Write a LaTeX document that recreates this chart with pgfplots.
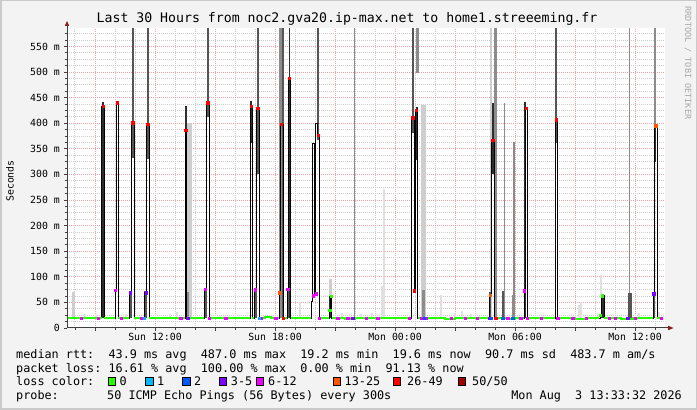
\documentclass[border=0pt]{standalone}
\usepackage{pgfplots}
\pgfplotsset{compat=1.18}
\usepackage{fontspec}
\setmainfont{DejaVu Sans Mono}
\frenchspacing

\definecolor{bg}{HTML}{F3F3F3}
\definecolor{framec}{HTML}{CACACA}
\definecolor{mgrid}{HTML}{F2A2A2}
\definecolor{ngrid}{HTML}{CDCDCD}
\definecolor{axc}{HTML}{404040}
\definecolor{arr}{HTML}{8E1A1A}
\definecolor{wm}{HTML}{A8A8A8}
\definecolor{sk1}{HTML}{E0E0E0}
\definecolor{sk2}{HTML}{CECECE}
\definecolor{sk3}{HTML}{8C8C8C}
\definecolor{sk4}{HTML}{555555}
\definecolor{sk5}{HTML}{2E2E2E}
\definecolor{lc0}{HTML}{26FF00}
\definecolor{lc1}{HTML}{00B8FF}
\definecolor{lc2}{HTML}{0059FF}
\definecolor{lc3}{HTML}{7E00FF}
\definecolor{lc6}{HTML}{EE00FF}
\definecolor{lc13}{HTML}{FF5500}
\definecolor{lc26}{HTML}{FF0000}
\definecolor{lc50}{HTML}{A00000}

\newcommand\tickfont{\fontsize{9.85}{11}\selectfont}
\newcommand\legfont{\fontsize{11.8}{13}\selectfont}
\newcommand\titlefont{\fontsize{13.2}{15}\selectfont}

\begin{document}
\begin{tikzpicture}[x=1pt,y=1pt]
\fill[bg] (0,0) rectangle (697,410);
\draw[framec, line width=1.5pt] (0.75,0.75) rectangle (696.25,409.25);

\begin{axis}[
  at={(67pt,82pt)}, anchor=south west,
  scale only axis, width=598pt, height=300pt,
  xmin=7.6, xmax=37.5, ymin=0, ymax=586,
  axis background/.style={fill=white},
  axis line style={draw=none},
  xtick={9,12,15,18,21,24,27,30,33,36},
  xticklabels={,Sun 12:00,,Sun 18:00,,Mon 00:00,,Mon 06:00,,Mon 12:00},
  minor xtick={8,10,11,13,14,16,17,19,20,22,23,25,26,28,29,31,32,34,35,37},
  ytick={0,50,...,550},
  yticklabels={0,50 m,100 m,150 m,200 m,250 m,300 m,350 m,400 m,450 m,500 m,550 m},
  minor ytick={12.5,25,37.5,62.5,75,87.5,112.5,125,137.5,162.5,175,187.5,212.5,225,237.5,262.5,275,287.5,312.5,325,337.5,362.5,375,387.5,412.5,425,437.5,462.5,475,487.5,512.5,525,537.5,562.5,575},
  xmajorgrids, ymajorgrids, xminorgrids, yminorgrids,
  major grid style={mgrid, line width=1pt, dash pattern=on 1pt off 1pt},
  minor grid style={ngrid, line width=1pt, dash pattern=on 1pt off 1pt},
  tick pos=left, tick align=outside,
  major tick length=3pt, minor tick length=2pt,
  tick style={axc, line width=0.8pt},
  ticklabel style={font=\tickfont, inner sep=0pt},
  xticklabel shift=2pt, yticklabel shift=4pt,
  unbounded coords=jump,
]

% smoke, lightest
\addplot[sk1, line width=2.3pt] coordinates {
(8.5,19)(8.5,28)(8.5,nan)
(9.05,19)(9.05,25)(9.05,nan)
(10.55,19)(10.55,27)(10.55,nan)
(12.75,19)(12.75,28)(12.75,nan)
(13.1,19)(13.1,31)(13.1,nan)
(15.25,19)(15.25,25)(15.25,nan)
(19.25,19)(19.25,50)(19.25,nan)
(21.35,19)(21.35,30)(21.35,nan)
(22.3,19)(22.3,28)(22.3,nan)
(22.85,19)(22.85,30)(22.85,nan)
(23.36,19)(23.36,83)(23.36,nan)
(23.46,19)(23.46,271)(23.46,nan)
(26.3,19)(26.3,65)(26.3,nan)
(27.0,19)(27.0,30)(27.0,nan)
(27.35,19)(27.35,33)(27.35,nan)
(27.8,19)(27.8,28)(27.8,nan)
(33.2,19)(33.2,45)(33.2,nan)
(33.3,19)(33.3,50)(33.3,nan)
(36.2,19)(36.2,30)(36.2,nan)
(37.2,19)(37.2,32)(37.2,nan)
(34.3,64)(34.3,104)(34.3,nan)
};
% smoke, light
\addplot[sk2, line width=2.3pt] coordinates {
(7.92,19)(7.92,71)(7.92,nan)
(28.79,19)(28.79,586)(28.79,nan)
(20.78,62)(20.78,95)(20.78,nan)
};
\addplot[sk2, line width=4.5pt] coordinates {
(13.72,19)(13.72,400)(13.72,nan)
(25.42,19)(25.42,436)(25.42,nan)
};
% smoke, medium
\addplot[sk3, line width=2.3pt] coordinates {
(13.65,19)(13.65,70)(13.65,nan)
(29.03,19)(29.03,586)(29.03,nan)
(29.9,19)(29.9,64)(29.9,nan)
(25.42,19)(25.42,75)(25.42,nan)
(37.0,395)(37.0,586)(37.0,nan)
(25.12,498)(25.12,586)(25.12,nan)
};
\addplot[sk3, line width=4.5pt] coordinates {
(18.33,19)(18.33,586)(18.33,nan)
};
\addplot[sk3, line width=1.1pt] coordinates {
(21.97,19)(21.97,586)(21.97,nan)
(29.47,19)(29.47,440)(29.47,nan)
(29.95,19)(29.95,364)(29.95,nan)
(35.73,19)(35.73,586)(35.73,nan)
};
% smoke, dark
\addplot[sk4, line width=2.3pt] coordinates {
(10.89,332)(10.89,586)(10.89,nan)
(11.64,330)(11.64,586)(11.64,nan)
(14.64,413)(14.64,586)(14.64,nan)
(17.15,300)(17.15,586)(17.15,nan)
(18.40,19)(18.40,586)(18.40,nan)
(20.15,367)(20.15,586)(20.15,nan)
(24.89,381)(24.89,586)(24.89,nan)
(32.06,362)(32.06,586)(32.06,nan)
(10.77,19)(10.77,72)(10.77,nan)
(11.52,19)(11.52,72)(11.52,nan)
(14.52,19)(14.52,78)(14.52,nan)
(17.02,19)(17.02,78)(17.02,nan)
(18.66,19)(18.66,78)(18.66,nan)
(28.75,19)(28.75,71)(28.75,nan)
(29.39,19)(29.39,73)(29.39,nan)
(36.95,19)(36.95,69)(36.95,nan)
};
\addplot[sk4, line width=4.5pt] coordinates {
(35.75,19)(35.75,69)(35.75,nan)
};
% smoke, darkest
\addplot[sk5, line width=2.3pt] coordinates {
(9.39,19)(9.39,442)(9.39,nan)
(13.54,370)(13.54,434)(13.54,nan)
(16.81,362)(16.81,443)(16.81,nan)
(25.1,328)(25.1,432)(25.1,nan)
(28.89,301)(28.89,440)(28.89,nan)
(30.51,19)(30.51,442)(30.51,nan)
(37.0,325)(37.0,395)(37.0,nan)
(34.37,19)(34.37,64)(34.37,nan)
(20.78,19)(20.78,62)(20.78,nan)
};
\addplot[sk5, line width=1.1pt] coordinates {
(18.72,19)(18.72,586)(18.72,nan)
};

% median rtt (spikes)
\addplot[black, line width=0.9pt, const plot] coordinates {
(9.32,19)(9.34,433)(9.45,19)(9.47,19)(9.48,nan)
(9.98,19)(10.0,74)(10.08,440)(10.17,19)(10.19,19)(10.2,nan)
(10.70,19)(10.72,69)(10.83,401)(10.95,19)(10.97,19)(10.98,nan)
(11.43,19)(11.45,69)(11.58,398)(11.70,19)(11.72,19)(11.73,nan)
(13.48,19)(13.5,386)(13.58,19)(13.6,19)(13.61,nan)
(14.45,19)(14.47,76)(14.58,440)(14.70,19)(14.72,19)(14.73,nan)
(16.73,19)(16.75,433)(16.87,19)(16.95,75)(17.08,429)(17.2,19)(17.22,19)(17.23,nan)
(18.2,19)(18.22,69)(18.25,398)(18.43,19)(18.45,19)(18.46,nan)
(18.6,19)(18.62,76)(18.69,488)(18.76,19)(18.78,19)(18.79,nan)
(19.78,19)(19.8,52)(19.88,360)(19.95,66)(20.02,400)(20.1,377)(20.2,19)(20.22,19)(20.23,nan)
(20.7,19)(20.72,35)(20.77,62)(20.83,19)(20.85,19)(20.86,nan)
(24.81,19)(24.83,411)(24.95,73)(25.0,426)(25.12,19)(25.14,19)(25.15,nan)
(28.68,19)(28.7,64)(28.83,367)(28.95,19)(28.97,19)(28.98,nan)
(30.43,19)(30.45,73)(30.5,429)(30.6,19)(30.62,19)(30.63,nan)
(31.98,19)(32.0,407)(32.12,19)(32.14,19)(32.15,nan)
(34.22,19)(34.25,25)(34.32,63)(34.45,19)(34.47,19)(34.48,nan)
(36.9,19)(36.92,67)(36.97,395)(37.1,19)(37.12,19)
};

% median rtt at 0 loss
\addplot[lc0, line width=2.2pt, const plot] coordinates {
(7.6,19)(8.3,20)(8.7,19)(9.33,19)(9.34,nan)
(9.45,19)(10.0,19)(10.01,nan)
(10.17,19)(10.72,19)(10.73,nan)
(10.95,19)(11.45,19)(11.46,nan)
(11.7,19)(12.2,20)(12.8,19)(13.5,19)(13.51,nan)
(13.6,19)(13.9,20)(14.2,19)(14.47,19)(14.48,nan)
(14.7,19)(15.6,20)(16.1,19)(16.75,19)(16.76,nan)
(16.87,19)(16.95,19)(16.96,nan)
(17.2,19)(17.5,21)(17.8,19)(18.2,19)(18.21,nan)
(18.44,19)(18.6,19)(18.61,nan)
(18.78,19)(19.78,19)(19.79,nan)
(20.2,19)(20.7,19)(20.71,nan)
(20.85,19)(21.5,18)(22.0,19)(23.0,20)(23.6,19)(24.81,19)(24.82,nan)
(25.14,19)(26.5,18)(27.0,19)(28.68,19)(28.69,nan)
(28.97,19)(29.6,18)(30.0,19)(30.43,19)(30.44,nan)
(30.62,19)(31.98,19)(31.99,nan)
(32.14,19)(33.0,18)(33.6,19)(34.22,19)(34.23,nan)
(34.47,19)(35.3,18)(35.9,19)(36.9,19)(36.91,nan)
(37.12,19)(37.35,19)
};

% loss colour of the median
\addplot[only marks, mark=square*, mark size=1.15pt, color=lc26] coordinates {
(9.40,433)(10.12,440)(10.89,401)(11.64,398)(13.54,386)(14.64,440)(16.81,433)
(17.14,429)(18.3,398)(18.72,488)(20.15,377)(24.89,411)(25.06,426)(28.89,367)
(30.55,429)(32.06,407)(18.4,19)(29.03,19)(24.97,73)
};
\addplot[only marks, mark=square*, mark size=1.15pt, color=lc13] coordinates {
(28.75,64)(18.2,69)(37.03,395)
};
\addplot[only marks, mark=square*, mark size=1.15pt, color=lc6] coordinates {
(10.0,74)(14.52,76)(17.02,75)(18.63,76)(19.9,63)(20.05,67)(30.45,73)
(8.3,19)(9.17,19)(10.3,19)(11.3,19)(13.28,19)(14.72,19)(15.53,19)(17.3,19)
(18.03,19)(20.22,19)(21.13,19)(21.63,19)(22.55,19)(23.13,19)(24.7,19)(25.3,19)
(25.55,19)(26.8,19)(27.5,19)(28.1,19)(29.63,19)(30.28,19)(30.61,19)(31.3,19)
(32.13,19)(32.88,19)(33.55,19)(34.72,19)(35.0,19)(36.0,19)(37.3,19)
};
\addplot[only marks, mark=square*, mark size=1.15pt, color=lc3] coordinates {
(10.77,69)(11.55,69)(13.63,19)(21.88,19)(36.93,67)(35.63,19)(28.72,19)
};
\addplot[only marks, mark=square*, mark size=1.15pt, color=lc1] coordinates {
(11.45,19)(17.2,19)
};
\addplot[only marks, mark=square*, mark size=1.15pt, color=lc2] coordinates {
(25.47,19)(29.38,19)(29.88,19)(28.8,19)
};
\addplot[only marks, mark=square*, mark size=1.15pt, color=lc0] coordinates {
(20.74,35)(20.8,62)(34.27,25)(34.37,63)
};
\end{axis}

% axis lines with arrows
\draw[axc, line width=1pt] (67,81.5) -- (67,384.5);
\draw[axc, line width=1pt] (66.5,82) -- (668.5,82);
\fill[arr] (64.8,384) -- (69.2,384) -- (67,389) -- cycle;
\fill[arr] (668,84.3) -- (673.5,82) -- (668,79.7) -- cycle;

% titles
\node[font=\titlefont, anchor=base, inner sep=0pt] at (347,387)
  {Last 30 Hours from noc2.gva20.ip-max.net to home1.streeeming.fr};
\node[font=\tickfont, rotate=90, inner sep=0pt] at (10,229) {Seconds};
\node[font=\fontsize{8.5}{10}\selectfont, text=wm, rotate=-90, inner sep=0pt] at (688,347)
  {RRDTOOL / TOBI OETIKER};

% legend
\begin{scope}[every node/.style={font=\legfont, inner sep=0pt, anchor=base west}]
\node at (16,51.7) {median rtt:~ 43.9 ms avg~ 487.0 ms max~ 19.2 ms min~ 19.6 ms now~ 90.7 ms sd~ 483.7 m am/s};
\node at (16,37.8) {packet loss: 16.61 \% avg~ 100.00 \% max~ 0.00 \% min~ 91.13 \% now};
\node at (16,24) {loss color:};
\node at (16,10.1) {probe:};
\node at (107,10.1) {50 ICMP Echo Pings (56 Bytes) every 300s};
\node[anchor=base east] at (682,10.1) {Mon Aug~ 3 13:33:32 2026};
\foreach \bx/\c/\lx/\t in {108.3/lc0/119.5/0, 145.7/lc1/157/1, 182.7/lc2/194/2,
  219.3/lc3/230.7/3-5, 256/lc6/268/6-12, 333.3/lc13/344.5/13-25,
  393.3/lc26/407/26-49}{
  \filldraw[fill=\c, draw=black, line width=0.6pt] (\bx,25) rectangle ++(7.3,7.3);
  \node at (\lx,24) {\t};
}
\filldraw[fill=lc50, draw=black, line width=0.6pt] (458,25) rectangle ++(7.3,7.3);
\node at (472,24) {50/50};
\end{scope}
\end{tikzpicture}
\end{document}
